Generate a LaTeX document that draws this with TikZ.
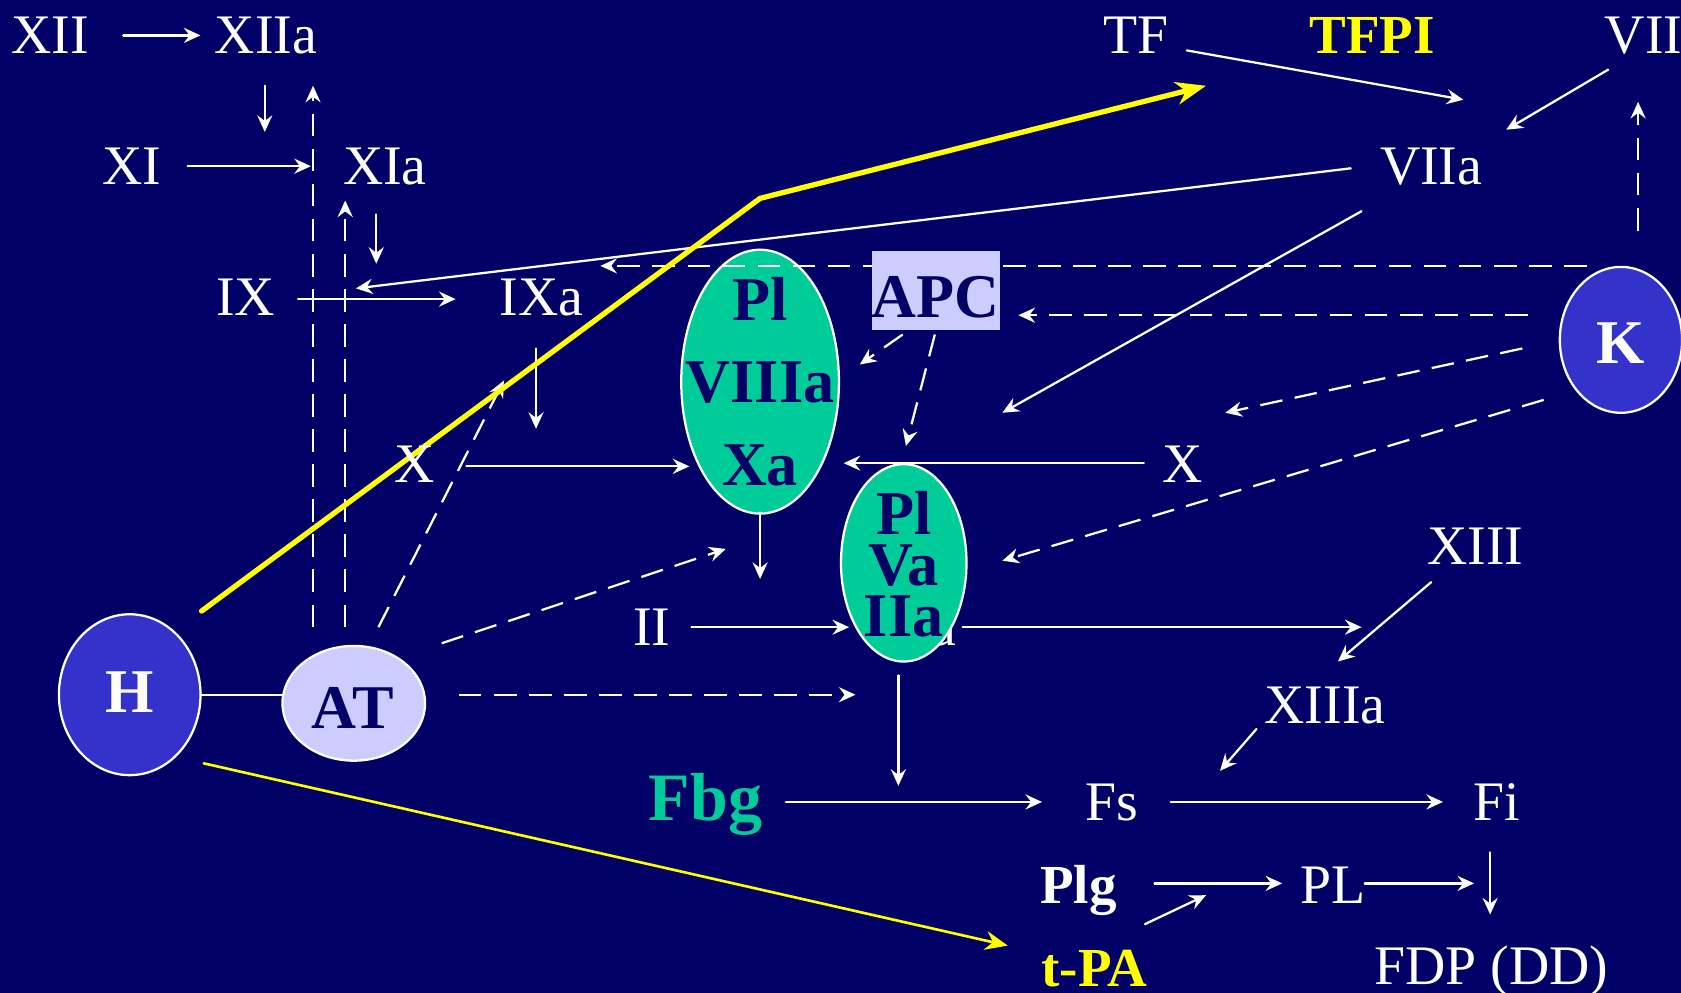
\documentclass[tikz,border=0pt]{standalone}
\usepackage{fontspec}
\setmainfont{Liberation Serif}
\usepackage{tikz}
\usetikzlibrary{arrows.meta,shapes.geometric,calc}
\definecolor{bgnavy}{RGB}{0,0,102}
\definecolor{clotgreen}{RGB}{0,204,153}
\definecolor{ballblue}{RGB}{51,51,204}
\definecolor{lavender}{RGB}{204,204,255}
\definecolor{ylw}{RGB}{255,255,0}

\begin{document}
\begin{tikzpicture}[line cap=round,line join=round,x=0.01cm,y=-0.01cm,
    >={Stealth[length=4.4pt,width=4pt,inset=1.5pt]},
    fac/.style={anchor=base,inner sep=0pt,text=white,font=\fontsize{14.8}{17}\selectfont},
    bfac/.style={anchor=base,inner sep=0pt,font=\fontsize{14.6}{17}\selectfont\bfseries},
    inbold/.style={inner sep=0pt,text=bgnavy,align=center,font=\fontsize{16.5}{22}\selectfont\bfseries},
    oval/.style={ellipse,draw=white,line width=0.6pt,inner sep=0pt},
    wline/.style={white,line width=0.6pt},
    dline/.style={white,line width=0.6pt,line cap=butt,dash pattern=on 6pt off 3.3pt}]
    \fill[bgnavy] (0,0) rectangle (1568,926);
    \useasboundingbox (0,0) rectangle (1568,926);
    % hidden white label under the second oval
    \node[fac] (IIaw) at (863,602) {IIa};
    % ovals
    \node[oval,fill=ballblue,minimum width=1.32cm,minimum height=1.5cm] (H) at (121,648) {};
    \node[oval,fill=lavender,minimum width=1.33cm,minimum height=1.07cm] (AT) at (330,656) {};
    \node[oval,fill=ballblue,minimum width=1.14cm,minimum height=1.36cm] (K) at (1512,317) {};
    \node[oval,fill=clotgreen,minimum width=1.47cm,minimum height=2.46cm] (tenase) at (709,356) {};
    \node[oval,fill=clotgreen,minimum width=1.17cm,minimum height=1.84cm] (prothr) at (843,525) {};
    % connector ends
    \coordinate (xii-r) at (115,33);   \coordinate (xiia-l) at (187,33);
    \coordinate (xiia-b) at (247,80);  \coordinate (xi-t) at (247,123);
    \coordinate (d1-b) at (292,585);   \coordinate (d1-t) at (292,80);
    \coordinate (d2-b) at (322,585);   \coordinate (d2-t) at (322,187);
    \coordinate (xi-r) at (175,155);   \coordinate (d1-m) at (290,155);
    \coordinate (xia-b) at (351,200);  \coordinate (ix-t) at (351,246);
    \coordinate (ix-r) at (278,279);   \coordinate (ixa-l) at (425,279);
    \coordinate (viia-l) at (1260,157); \coordinate (ix-hit) at (332,269);
    \coordinate (tf-r) at (1107,47);   \coordinate (viia-t) at (1365,93);
    \coordinate (vii-b) at (1500,65);  \coordinate (viia-tr) at (1405,121);
    \coordinate (k-t) at (1528,215);   \coordinate (vii-bb) at (1528,95);
    \coordinate (k-a) at (1480,248);   \coordinate (ixa-rr) at (560,248);
    \coordinate (k-b) at (1425,294);   \coordinate (apc-r) at (950,294);
    \coordinate (k-c) at (1420,325);   \coordinate (k-c1) at (1143,385);
    \coordinate (k-d) at (1440,373);   \coordinate (pro-r) at (935,523);
    \coordinate (viia-b) at (1270,197); \coordinate (viia-hit) at (935,385);
    \coordinate (apc-b1) at (842,312); \coordinate (ten-r) at (802,340);
    \coordinate (apc-b2) at (872,312); \coordinate (pro-t) at (845,416);
    \coordinate (xl-r) at (435,435);   \coordinate (ten-l) at (643,435);
    \coordinate (ixa-b) at (500,325);  \coordinate (xl-t) at (500,400);
    \coordinate (xr-l) at (1067,432);  \coordinate (ten-rr) at (787,432);
    \coordinate (ten-b) at (709,478);  \coordinate (ii-t) at (709,540);
    \coordinate (at-a) at (412,600);   \coordinate (at-a1) at (677,512);
    \coordinate (at-b) at (353,585);   \coordinate (at-b1) at (470,355);
    \coordinate (ii-r) at (645,585);   \coordinate (pro-l) at (792,585);
    \coordinate (pro-rr) at (898,585); \coordinate (xiii-l) at (1270,585);
    \coordinate (xiii-b) at (1335,543); \coordinate (xiiia-t) at (1248,617);
    \coordinate (xiiia-b) at (1172,680); \coordinate (fs-t) at (1138,719);
    \coordinate (at-c) at (428,648);   \coordinate (at-c1) at (798,648);
    \coordinate (pro-b) at (838,630);  \coordinate (fbg-fs) at (838,733);
    \coordinate (fbg-r) at (733,748);  \coordinate (fs-l) at (972,748);
    \coordinate (fs-r) at (1092,748);  \coordinate (fi-l) at (1346,748);
    \coordinate (fi-b) at (1390,795);  \coordinate (fdp-t) at (1390,853);
    \coordinate (plg-r) at (1077,824); \coordinate (pl-l) at (1196,824);
    \coordinate (pl-r) at (1273,824);  \coordinate (pl-rr) at (1375,824);
    \coordinate (tpa-t) at (1068,862); \coordinate (tpa-hit) at (1125,835);
    \coordinate (h-t) at (188,570);    \coordinate (bend) at (709,185);
    \coordinate (tfpi-l) at (1125,80);
    \coordinate (h-b) at (190,712);    \coordinate (tpa-l) at (940,882);
    % solid arrows
    \draw[wline,->] (xii-r) -- (xiia-l);
    \draw[wline,->] (xiia-b) -- (xi-t);
    \draw[wline,->] (xi-r) -- (d1-m);
    \draw[wline,->] (xia-b) -- (ix-t);
    \draw[wline,->] (ix-r) -- (ixa-l);
    \draw[wline,->] (viia-l) -- (ix-hit);
    \draw[wline,->] (tf-r) -- (viia-t);
    \draw[wline,->] (vii-b) -- (viia-tr);
    \draw[wline,->] (viia-b) -- (viia-hit);
    \draw[wline,->] (xl-r) -- (ten-l);
    \draw[wline,->] (ixa-b) -- (xl-t);
    \draw[wline,->] (xr-l) -- (ten-rr);
    \draw[wline,->] (ten-b) -- (ii-t);
    \draw[wline,->] (ii-r) -- (pro-l);
    \draw[wline,->] (pro-rr) -- (xiii-l);
    \draw[wline,->] (xiii-b) -- (xiiia-t);
    \draw[wline,->] (xiiia-b) -- (fs-t);
    \draw[wline,->] (pro-b) -- (fbg-fs);
    \draw[wline,->] (fbg-r) -- (fs-l);
    \draw[wline,->] (fs-r) -- (fi-l);
    \draw[wline,->] (fi-b) -- (fdp-t);
    \draw[wline,->] (plg-r) -- (pl-l);
    \draw[wline,->] (pl-r) -- (pl-rr);
    \draw[wline,->] (tpa-t) -- (tpa-hit);
    \draw[wline] (H.east) -- (H.east -| AT.west);
    % dashed arrows
    \draw[dline,->] (d1-b) -- (d1-t);
    \draw[dline,->] (d2-b) -- (d2-t);
    \draw[dline,->] (k-t) -- (vii-bb);
    \draw[dline,->] (k-a) -- (ixa-rr);
    \draw[dline,->] (k-b) -- (apc-r);
    \draw[dline,->] (k-c) -- (k-c1);
    \draw[dline,->] (k-d) -- (pro-r);
    \draw[dline,->] (apc-b1) -- (ten-r);
    \draw[dline,->] (apc-b2) -- (pro-t);
    \draw[dline,->] (at-a) -- (at-a1);
    \draw[dline,->] (at-b) -- (at-b1);
    \draw[dline,->] (at-c) -- (at-c1);
    % APC box
    \node[fill=lavender,inner sep=0pt,minimum width=1.17cm,text height=0.62cm,text depth=0.12cm,
          anchor=base,text=bgnavy,font=\fontsize{16.5}{20}\selectfont\bfseries] (APC) at (873,296) {APC};
    % yellow lines
    \draw[ylw,line width=1.4pt,-{Stealth[length=8pt,width=6pt,inset=2.5pt]}] (h-t) -- (bend) -- (tfpi-l);
    \draw[ylw,line width=0.7pt,-{Stealth[length=6pt,width=5pt,inset=2pt]}] (h-b) -- (tpa-l);
    % texts in ovals
    \node[inbold,text=white] (Htxt) at (121,646) {H};
    \node[inbold] (ATtxt) at (329,660) {AT};
    \node[inbold,text=white] (Ktxt) at (1512,320) {K};
    \node[inbold] (tenasetxt) at (709,356) {Pl\\VIIIa\\Xa};
    \node[inbold,font=\fontsize{16.5}{13.5}\selectfont\bfseries] (prothrtxt) at (843,526) {Pl\\Va\\IIa};
    % factors
    \node[fac] (XII) at (47,50) {XII};
    \node[fac] (XIIa) at (248,50) {XIIa};
    \node[fac] (TF) at (1060,50) {TF};
    \node[bfac,text=ylw] (TFPI) at (1280,50) {TFPI};
    \node[fac] (VII) at (1533,50) {VII};
    \node[fac] (XI) at (123,172) {XI};
    \node[fac] (XIa) at (359,172) {XIa};
    \node[fac] (VIIa) at (1335,172) {VIIa};
    \node[fac] (IX) at (229,294) {IX};
    \node[fac] (IXa) at (505,294) {IXa};
    \node[fac] (Xl) at (387,450) {X};
    \node[fac] (Xr) at (1103,450) {X};
    \node[fac] (II) at (608,602) {II};
    \node[fac] (XIII) at (1376,527) {XIII};
    \node[fac] (XIIIa) at (1236,675) {XIIIa};
    \node[anchor=base,inner sep=0pt,text=clotgreen,font=\fontsize{18}{20}\selectfont\bfseries] (Fbg) at (658,765) {Fbg};
    \node[fac] (Fs) at (1037,765) {Fs};
    \node[fac] (Fi) at (1396,765) {Fi};
    \node[bfac,text=white] (Plg) at (1006,843) {Plg};
    \node[fac] (PL) at (1243,843) {PL};
    \node[bfac,text=ylw] (tPA) at (1021,920) {t-PA};
    \node[fac] (FDP) at (1391,918) {FDP (DD)};
\end{tikzpicture}
\end{document}
